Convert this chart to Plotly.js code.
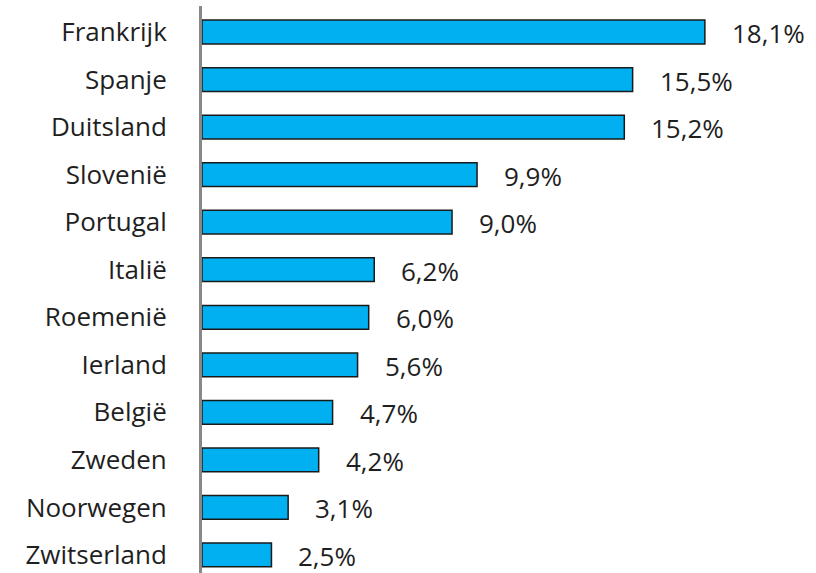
<!DOCTYPE html>
<html>
<head>
<meta charset="utf-8">
<script src="https://cdn.plot.ly/plotly-3.0.1.min.js"></script>
<style>html,body{margin:0;padding:0;background:#fff;}#chart{width:816px;height:573px;}</style>
</head>
<body>
<div id="chart"></div>
<script>
const countries = ["Frankrijk","Spanje","Duitsland","Slovenië","Portugal","Italië","Roemenië","Ierland","België","Zweden","Noorwegen","Zwitserland"];
const values = [18.1,15.5,15.2,9.9,9.0,6.2,6.0,5.6,4.7,4.2,3.1,2.5];
const valueLabels = ["18,1%","15,5%","15,2%","9,9%","9,0%","6,2%","6,0%","5,6%","4,7%","4,2%","3,1%","2,5%"];

const cats = countries.slice().reverse();
const vals = values.slice().reverse();
const labs = valueLabels.slice().reverse();

const fontFam = "Open Sans, sans-serif";
const txtColor = "#1f1f1f";

const trace = {
  type: "bar",
  orientation: "h",
  y: cats,
  x: vals,
  marker: {color: "#00B0F0", line: {color: "#1a1a1a", width: 1.5}},
  width: 0.5,
  hoverinfo: "none"
};

const annotations = cats.map((c, i) => ({
  x: vals[i], y: c, xref: "x", yref: "y",
  text: labs[i], showarrow: false, xanchor: "left", xshift: 25, yshift: -1,
  font: {family: fontFam, size: 26, color: txtColor}
}));

const layout = {
  width: 816, height: 573,
  margin: {l: 202, r: 0, t: 6, b: 0},
  paper_bgcolor: "#fff", plot_bgcolor: "#fff",
  showlegend: false,
  xaxis: {range: [0, 22.1], showgrid: false, zeroline: false, showticklabels: false, showline: false},
  yaxis: {
    type: "category", range: [-0.379, 11.547],
    showgrid: false, zeroline: false, showline: true,
    linecolor: "#888888", linewidth: 3, ticks: "",
    ticklabelstandoff: 27,
    tickfont: {family: fontFam, size: 26, color: txtColor}
  },
  annotations: annotations
};

Plotly.newPlot("chart", [trace], layout, {staticPlot: true});
</script>
</body>
</html>
